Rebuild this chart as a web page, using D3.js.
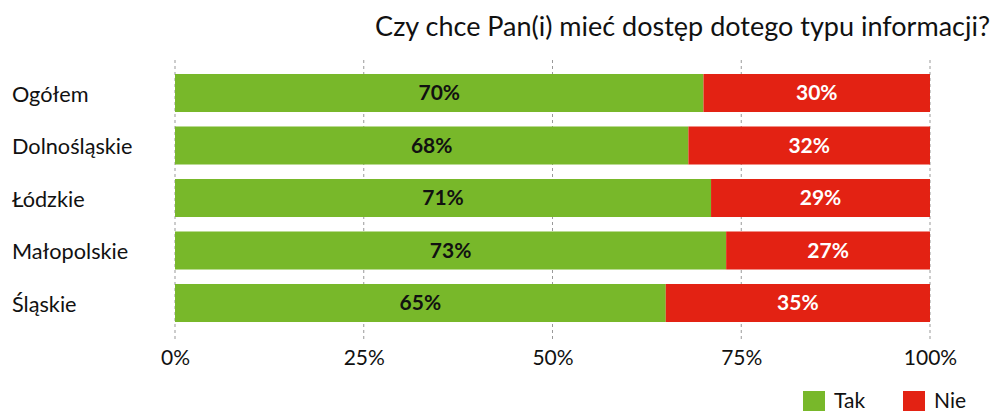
<!DOCTYPE html>
<html><head><meta charset="utf-8">
<script src="https://cdn.jsdelivr.net/npm/d3@7"></script>
<style>body{margin:0;background:#fff}svg{display:block;font-family:Lato,"Noto Sans",sans-serif}</style>
</head><body><svg id="c" width="996" height="411"></svg>
<script>
const title = "Czy chce Pan(i) mieć dostęp dotego typu informacji?";
const categories = ["Ogółem","Dolnośląskie","Łódzkie","Małopolskie","Śląskie"];
const tak = [70,68,71,73,65];
const nie = [30,32,29,27,35];
const seriesNames = ["Tak","Nie"];
const colors = ["#78b82a","#e32213"];
const ticks = [0,25,50,75,100];

const svg = d3.select("#c");
const x = d3.scaleLinear().domain([0,100]).range([175,930]);
const y = d3.scaleBand().domain(categories).range([66.75,329.25]).paddingInner(0.276).paddingOuter(0.138);

svg.append("text").attr("x",990).attr("y",36).attr("text-anchor","end")
  .attr("font-size",27).attr("fill","#111").text(title);

// grid
svg.append("g").selectAll("line").data(ticks).join("line")
  .attr("x1",d=>x(d)).attr("x2",d=>x(d)).attr("y1",60).attr("y2",340)
  .attr("stroke","#999").attr("stroke-width",1).attr("stroke-dasharray","3,3");

const data = categories.map((c,i)=>({c,vals:[tak[i],nie[i]]}));
const g = svg.append("g");
data.forEach(d=>{
  let acc=0;
  d.vals.forEach((v,j)=>{
    g.append("rect").attr("x",x(acc)).attr("y",y(d.c)).attr("width",x(acc+v)-x(acc))
      .attr("height",y.bandwidth()).attr("fill",colors[j]);
    g.append("text").attr("x",(x(acc)+x(acc+v))/2).attr("y",y(d.c)+y.bandwidth()/2)
      .attr("dy","0.35em").attr("text-anchor","middle").attr("font-weight","bold")
      .attr("font-size",21).attr("fill",j===0?"#111":"#fff").text(v+"%");
    acc+=v;
  });
});

// category labels
svg.append("g").selectAll("text").data(categories).join("text")
  .attr("x",12).attr("y",d=>y(d)+y.bandwidth()/2+1).attr("dy","0.35em")
  .attr("font-size",21.7).attr("fill","#111").text(d=>d);

// x axis
const ax = svg.append("g").attr("transform","translate(0,347)")
  .call(d3.axisBottom(x).tickValues(ticks).tickFormat(d=>d+"%").tickSize(0));
ax.select(".domain").remove();
ax.selectAll("text").attr("font-size",21).attr("fill","#111").attr("font-family","Lato,'Noto Sans',sans-serif");

// legend
const lx = [803,903];
const lg = svg.append("g");
seriesNames.forEach((s,i)=>{
  lg.append("rect").attr("x",lx[i]).attr("y",391).attr("width",22).attr("height",20).attr("fill",colors[i]);
  lg.append("text").attr("x",lx[i]+31).attr("y",401).attr("dy","0.35em").attr("font-size",21).attr("fill","#111").text(s);
});
</script></body></html>
